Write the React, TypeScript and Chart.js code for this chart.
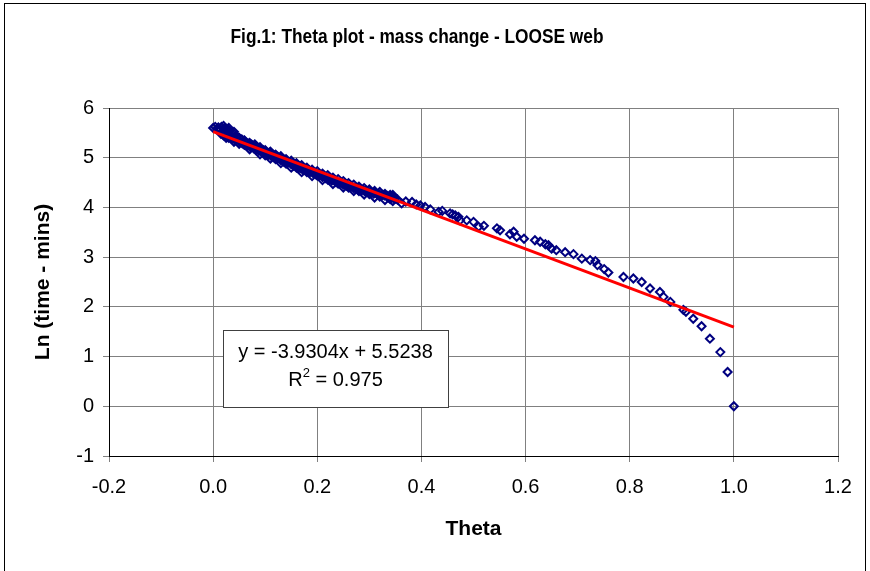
import React, { useEffect, useRef } from "react";
import { Chart, registerables } from "chart.js";

Chart.register(...registerables);

const TITLE = "Fig.1: Theta plot - mass change - LOOSE web";
const X_TITLE = "Theta";
const Y_TITLE = "Ln (time - mins)";
const EQUATION = "y = -3.9304x + 5.5238";
const R2_VALUE = "0.975";

const X_MIN = -0.2;
const X_MAX = 1.2;
const X_STEP = 0.2;
const Y_MIN = -1;
const Y_MAX = 6;
const Y_STEP = 1;

// Measured points: theta vs ln(time)
const thetaValues = [
  0.0, 0.004, 0.01, 0.016, 0.022, 0.008, 0.014, 0.025, 0.03, 0.012, 0.02, 0.028, 0.018, 0.034, 0.024, 0.04,
  0.03, 0.02, 0.036, 0.045, 0.028, 0.042, 0.05, 0.036, 0.055, 0.044, 0.06, 0.05, 0.04, 0.062, 0.056, 0.068,
  0.06, 0.074, 0.066, 0.08, 0.072, 0.085, 0.078, 0.09, 0.082, 0.096, 0.088, 0.102, 0.094, 0.108, 0.1, 0.114,
  0.106, 0.118, 0.112, 0.124, 0.118, 0.13, 0.124, 0.136, 0.13, 0.142, 0.136, 0.148, 0.142, 0.155, 0.15, 0.16,
  0.154, 0.166, 0.16, 0.172, 0.167, 0.178, 0.172, 0.184, 0.18, 0.19, 0.186, 0.196, 0.192, 0.202, 0.198, 0.208,
  0.204, 0.214, 0.21, 0.22, 0.216, 0.226, 0.222, 0.232, 0.228, 0.238, 0.236, 0.246, 0.242, 0.252, 0.25, 0.258,
  0.256, 0.266, 0.262, 0.272, 0.27, 0.28, 0.278, 0.288, 0.284, 0.294, 0.292, 0.302, 0.3, 0.31, 0.308, 0.318,
  0.316, 0.326, 0.33, 0.334, 0.322, 0.338, 0.342, 0.336, 0.346, 0.35, 0.354, 0.344,
  0.05, 0.07, 0.09, 0.11, 0.13, 0.15, 0.17, 0.19, 0.21, 0.23, 0.25, 0.27, 0.29, 0.31, 0.33, 0.345,
  0.03, 0.05, 0.07, 0.09, 0.11, 0.13, 0.15, 0.17, 0.19, 0.21, 0.23, 0.25, 0.27, 0.29, 0.31, 0.33, 0.345,
  0.02, 0.03, 0.04, 0.015, 0.025,
  0.06, 0.08, 0.1, 0.12, 0.14, 0.16, 0.18, 0.2, 0.22, 0.24, 0.26, 0.28, 0.3, 0.32, 0.34,
  0.04, 0.06, 0.08, 0.1, 0.12, 0.14, 0.16, 0.18, 0.2, 0.22, 0.24, 0.26, 0.28, 0.3, 0.32, 0.34,
  0.362, 0.37, 0.382, 0.39, 0.398, 0.407, 0.417, 0.433, 0.44, 0.455, 0.46, 0.465, 0.471, 0.474, 0.487, 0.5,
  0.51, 0.52, 0.545, 0.551, 0.57, 0.577, 0.583, 0.597, 0.618, 0.628, 0.638, 0.644, 0.65, 0.659, 0.676, 0.692,
  0.708, 0.724, 0.734, 0.738, 0.751, 0.759, 0.788, 0.807, 0.823, 0.839, 0.858, 0.865, 0.878, 0.903, 0.908, 0.922,
  0.938, 0.954, 0.974, 0.988, 1.0,
];

const lnTimeValues = [
  5.6, 5.62, 5.61, 5.62, 5.6, 5.58, 5.57, 5.58, 5.56, 5.55, 5.54, 5.52, 5.51, 5.5, 5.49, 5.48,
  5.46, 5.45, 5.44, 5.43, 5.42, 5.4, 5.39, 5.38, 5.37, 5.35, 5.34, 5.33, 5.32, 5.31, 5.29, 5.28,
  5.27, 5.26, 5.24, 5.23, 5.21, 5.2, 5.19, 5.18, 5.16, 5.15, 5.14, 5.12, 5.11, 5.1, 5.08, 5.07,
  5.06, 5.04, 5.03, 5.02, 5.0, 4.99, 4.98, 4.96, 4.95, 4.94, 4.92, 4.91, 4.9, 4.88, 4.87, 4.86,
  4.84, 4.83, 4.82, 4.8, 4.79, 4.78, 4.76, 4.75, 4.74, 4.72, 4.71, 4.7, 4.69, 4.67, 4.66, 4.65,
  4.64, 4.62, 4.61, 4.6, 4.59, 4.57, 4.56, 4.55, 4.54, 4.52, 4.51, 4.5, 4.49, 4.47, 4.46, 4.45,
  4.44, 4.42, 4.41, 4.4, 4.39, 4.37, 4.36, 4.35, 4.34, 4.33, 4.32, 4.31, 4.3, 4.29, 4.28, 4.27,
  4.26, 4.25, 4.24, 4.23, 4.24, 4.22, 4.21, 4.2, 4.19, 4.18, 4.16, 4.23,
  5.4, 5.3, 5.21, 5.12, 5.03, 4.94, 4.85, 4.76, 4.68, 4.6, 4.53, 4.46, 4.39, 4.33, 4.27, 4.25,
  5.4, 5.28, 5.17, 5.07, 4.98, 4.89, 4.8, 4.71, 4.63, 4.55, 4.47, 4.4, 4.33, 4.26, 4.2, 4.15, 4.13,
  5.64, 5.6, 5.52, 5.48, 5.4,
  5.35, 5.27, 5.15, 5.06, 4.97, 4.89, 4.8, 4.73, 4.65, 4.57, 4.49, 4.42, 4.36, 4.31, 4.25,
  5.38, 5.26, 5.18, 5.05, 4.97, 4.88, 4.8, 4.71, 4.64, 4.56, 4.48, 4.4, 4.33, 4.27, 4.22, 4.17,
  4.08, 4.12, 4.11, 4.06, 4.04, 4.01, 3.96, 3.91, 3.93, 3.88, 3.86, 3.84, 3.81, 3.74, 3.74, 3.71,
  3.61, 3.63, 3.58, 3.54, 3.46, 3.51, 3.41, 3.37, 3.34, 3.31, 3.26, 3.24, 3.17, 3.14, 3.1, 3.06,
  2.97, 2.94, 2.92, 2.84, 2.76, 2.69, 2.6, 2.57, 2.5, 2.37, 2.3, 2.2, 2.1, 1.94, 1.9, 1.76,
  1.61, 1.36, 1.09, 0.69, 0.0,
];

// Linear trendline end points (from the fitted equation shown on the chart)
const trendTheta = [0.0, 1.0];
const trendLn = [5.5238, 1.5934];

const FONT = "'Liberation Sans', Arial, sans-serif";

const decorPlugin = {
  id: "decor",
  beforeDraw(chart: any) {
    const { ctx } = chart;
    ctx.save();
    ctx.fillStyle = "#ffffff";
    ctx.fillRect(0, 0, chart.width, chart.height);
    ctx.strokeStyle = "#000000";
    ctx.lineWidth = 1;
    ctx.strokeRect(4.5, 3.5, 861, 700);
    ctx.restore();
  },
  afterDatasetsDraw(chart: any) {
    const { ctx } = chart;
    ctx.save();
    // title (condensed look)
    ctx.fillStyle = "#000000";
    ctx.font = `bold 20px ${FONT}`;
    ctx.textAlign = "center";
    ctx.textBaseline = "middle";
    const tw = ctx.measureText(TITLE).width;
    const sx = 373 / tw;
    ctx.save();
    ctx.translate(417, 37);
    ctx.scale(sx, 1);
    ctx.fillText(TITLE, 0, 0);
    ctx.restore();

    // equation box
    const bx = 223, by = 330, bw = 225, bh = 77;
    ctx.fillStyle = "#ffffff";
    ctx.fillRect(bx, by, bw, bh);
    ctx.strokeStyle = "#404040";
    ctx.lineWidth = 1;
    ctx.strokeRect(bx + 0.5, by + 0.5, bw, bh);
    ctx.fillStyle = "#000000";
    ctx.font = `20px ${FONT}`;
    ctx.textAlign = "center";
    ctx.fillText(EQUATION, bx + bw / 2, 352);
    // R^2 line
    const p1 = "R";
    const p3 = " = " + R2_VALUE;
    ctx.font = `20px ${FONT}`;
    const w1 = ctx.measureText(p1).width;
    const w3 = ctx.measureText(p3).width;
    ctx.font = `13px ${FONT}`;
    const w2 = ctx.measureText("2").width;
    const total = w1 + w2 + w3;
    let x = bx + bw / 2 - total / 2;
    ctx.textAlign = "left";
    ctx.font = `20px ${FONT}`;
    ctx.fillText(p1, x, 380);
    x += w1;
    ctx.font = `13px ${FONT}`;
    ctx.fillText("2", x, 373);
    x += w2;
    ctx.font = `20px ${FONT}`;
    ctx.fillText(p3, x, 380);
    ctx.restore();
  },
};

export default function App() {
  const ref = useRef<HTMLCanvasElement | null>(null);

  useEffect(() => {
    if (!ref.current) return;
    Chart.defaults.font.family = FONT;
    const scatterData = thetaValues.map((t, i) => ({ x: t, y: lnTimeValues[i] }));
    const trendData = trendTheta.map((t, i) => ({ x: t, y: trendLn[i] }));
    const chart = new Chart(ref.current, {
      type: "scatter",
      data: {
        datasets: [
          {
            label: "Trend",
            type: "line",
            data: trendData,
            borderColor: "#ff0000",
            borderWidth: 3,
            pointRadius: 0,
            fill: false,
            order: 0,
          } as any,
          {
            label: "Data",
            data: scatterData,
            pointStyle: "rectRot",
            pointRadius: 4,
            pointBorderColor: "#000080",
            pointBackgroundColor: "rgba(0,0,0,0)",
            pointBorderWidth: 2,
            order: 1,
          },
        ],
      },
      options: {
        responsive: false,
        animation: false,
        layout: { padding: { top: 108, right: 32, bottom: 0, left: 0 } },
        plugins: {
          legend: { display: false },
          title: { display: false },
          tooltip: { enabled: false },
        },
        scales: {
          x: {
            type: "linear",
            min: X_MIN,
            max: X_MAX,
            ticks: {
              stepSize: X_STEP,
              color: "#000000",
              font: { size: 20 },
              padding: 13,
              callback: (v: any) => (Math.abs(Number(v)) < 1e-9 ? "0.0" : Number(v).toFixed(1)),
            },
            grid: { color: "#808080", lineWidth: 1, tickLength: 6, tickColor: "#808080" },
            border: { color: "#000000", width: 1 },
            title: {
              display: true,
              text: X_TITLE,
              color: "#000000",
              font: { size: 21, weight: "bold" },
              padding: { top: 0, bottom: 29 },
            },
            afterFit: (s: any) => {
              s.height = 115;
            },
          },
          y: {
            type: "linear",
            min: Y_MIN,
            max: Y_MAX,
            ticks: {
              stepSize: Y_STEP,
              color: "#000000",
              font: { size: 20 },
              padding: 9,
            },
            grid: { color: "#808080", lineWidth: 1, tickLength: 6, tickColor: "#808080" },
            border: { color: "#000000", width: 1 },
            title: {
              display: true,
              text: Y_TITLE,
              color: "#000000",
              font: { size: 21, weight: "bold" },
              padding: { top: 31, bottom: 0 },
            },
            afterFit: (s: any) => {
              s.width = 109;
            },
          },
        },
      },
      plugins: [decorPlugin],
    });
    return () => chart.destroy();
  }, []);

  return (
    <div style={{ position: "fixed", left: 0, top: 0, width: 870, height: 571, background: "#fff" }}>
      <canvas ref={ref} width={870} height={571} />
    </div>
  );
}
